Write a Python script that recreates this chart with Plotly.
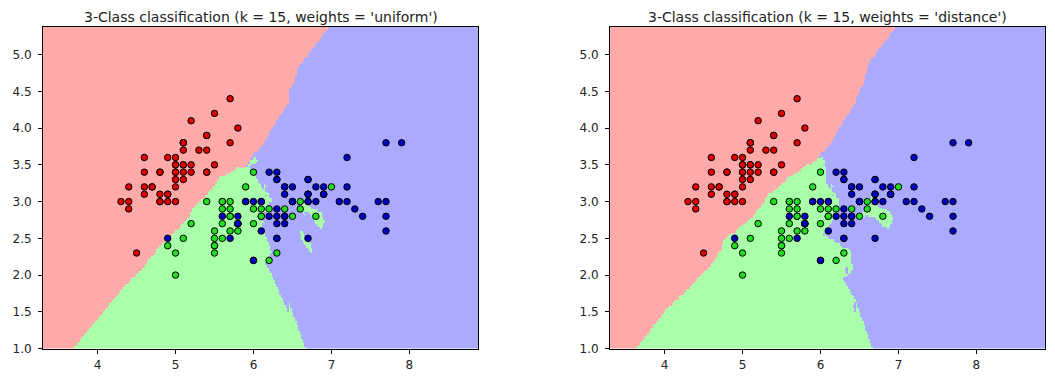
import numpy as np
import plotly.graph_objects as go
from plotly.subplots import make_subplots

# Iris: sepal length / sepal width
setosa_x = [5.1,4.9,4.7,4.6,5.0,5.4,4.6,5.0,4.4,4.9,5.4,4.8,4.8,4.3,5.8,5.7,5.4,5.1,5.7,5.1,
            5.4,5.1,4.6,5.1,4.8,5.0,5.0,5.2,5.2,4.7,4.8,5.4,5.2,5.5,4.9,5.0,5.5,4.9,4.4,5.1,
            5.0,4.5,4.4,5.0,5.1,4.8,5.1,4.6,5.3,5.0]
setosa_y = [3.5,3.0,3.2,3.1,3.6,3.9,3.4,3.4,2.9,3.1,3.7,3.4,3.0,3.0,4.0,4.4,3.9,3.5,3.8,3.8,
            3.4,3.7,3.6,3.3,3.4,3.0,3.4,3.5,3.4,3.2,3.1,3.4,4.1,4.2,3.1,3.2,3.5,3.6,3.0,3.4,
            3.5,2.3,3.2,3.5,3.8,3.0,3.8,3.2,3.7,3.3]
versicolor_x = [7.0,6.4,6.9,5.5,6.5,5.7,6.3,4.9,6.6,5.2,5.0,5.9,6.0,6.1,5.6,6.7,5.6,5.8,6.2,5.6,
                5.9,6.1,6.3,6.1,6.4,6.6,6.8,6.7,6.0,5.7,5.5,5.5,5.8,6.0,5.4,6.0,6.7,6.3,5.6,5.5,
                5.5,6.1,5.8,5.0,5.6,5.7,5.7,6.2,5.1,5.7]
versicolor_y = [3.2,3.2,3.1,2.3,2.8,2.8,3.3,2.4,2.9,2.7,2.0,3.0,2.2,2.9,2.9,3.1,3.0,2.7,2.2,2.5,
                3.2,2.8,2.5,2.8,2.9,3.0,2.8,3.0,2.9,2.6,2.4,2.4,2.7,2.7,3.0,3.4,3.1,2.3,3.0,2.5,
                2.6,3.0,2.6,2.3,2.7,3.0,2.9,2.9,2.5,2.8]
virginica_x = [6.3,5.8,7.1,6.3,6.5,7.6,4.9,7.3,6.7,7.2,6.5,6.4,6.8,5.7,5.8,6.4,6.5,7.7,7.7,6.0,
               6.9,5.6,7.7,6.3,6.7,7.2,6.2,6.1,6.4,7.2,7.4,7.9,6.4,6.3,6.1,7.7,6.3,6.4,6.0,6.9,
               6.7,6.9,5.8,6.8,6.7,6.7,6.3,6.5,6.2,5.9]
virginica_y = [3.3,2.7,3.0,2.9,3.0,3.0,2.5,2.9,2.5,3.6,3.2,2.7,3.0,2.5,2.8,3.2,3.0,3.8,2.6,2.2,
               3.2,2.8,2.8,2.7,3.3,3.2,2.8,3.0,2.8,3.0,2.8,3.8,2.8,2.8,2.6,3.0,3.4,3.1,3.0,3.1,
               3.1,3.1,2.7,3.2,3.3,3.0,2.5,3.0,3.4,3.0]

n_neighbors = 15
weight_modes = ["uniform", "distance"]
light_colors = ["#FFAAAA", "#AAFFAA", "#AAAAFF"]
bold_colors = ["#E00000", "#22DD22", "#0000C0"]
x_ticks = [4, 5, 6, 7, 8]
y_ticks = [1.0, 1.5, 2.0, 2.5, 3.0, 3.5, 4.0, 4.5, 5.0]

X = np.array(list(zip(setosa_x + versicolor_x + virginica_x, setosa_y + versicolor_y + virginica_y)))
Y = np.array([0] * 50 + [1] * 50 + [2] * 50)

h = 0.02
x_min, x_max = X[:, 0].min() - 1, X[:, 0].max() + 1
y_min, y_max = X[:, 1].min() - 1, X[:, 1].max() + 1
gx = np.arange(x_min, x_max, h)
gy = np.arange(y_min, y_max, h)
xx, yy = np.meshgrid(gx, gy)
P = np.c_[xx.ravel(), yy.ravel()]


def knn_predict(P, weights):
    d = np.sqrt(((P[:, None, :] - X[None, :, :]) ** 2).sum(-1))
    idx = np.argsort(d, axis=1, kind="stable")[:, :n_neighbors]
    nd = np.take_along_axis(d, idx, axis=1)
    lab = Y[idx]
    if weights == "uniform":
        w = np.ones_like(nd)
    else:
        with np.errstate(divide="ignore"):
            w = 1.0 / nd
        inf = np.isinf(w)
        rows = inf.any(axis=1)
        w[rows] = inf[rows].astype(float)
    scores = np.zeros((P.shape[0], 3))
    for c in range(3):
        scores[:, c] = (w * (lab == c)).sum(axis=1)
    return scores.argmax(axis=1)


fig = make_subplots(rows=1, cols=2, horizontal_spacing=0.1)
colorscale = [[0, light_colors[0]], [0.5, light_colors[1]], [1, light_colors[2]]]

for i, wmode in enumerate(weight_modes):
    Z = knn_predict(P, wmode).reshape(xx.shape)
    fig.add_trace(go.Heatmap(x=gx, y=gy, z=Z, zmin=0, zmax=2, colorscale=colorscale,
                             showscale=False, zsmooth=False, hoverinfo="skip"), row=1, col=i + 1)
    fig.add_trace(go.Scatter(x=X[:, 0], y=X[:, 1], mode="markers",
                             marker=dict(size=6.5, color=[bold_colors[c] for c in Y],
                                         line=dict(color="black", width=1)),
                             showlegend=False), row=1, col=i + 1)

W, H = 1055, 378
OFF = 8  # page body margin
fonts = dict(family="DejaVu Sans", size=12, color="#222222")
axis_common = dict(showline=True, linecolor="black", linewidth=1, mirror=True,
                   ticks="outside", ticklen=4, tickcolor="black", showgrid=False,
                   zeroline=False, tickfont=fonts)
domains = [[(43 - OFF) / W, (478 - OFF) / W], [(610 - OFF) / W, (1045 - OFF) / W]]
ydom = [1 - 347 / H, 1 - 19 / H]
for i in range(2):
    xa = "xaxis" if i == 0 else "xaxis2"
    ya = "yaxis" if i == 0 else "yaxis2"
    fig.layout[xa].update(domain=domains[i], range=[gx.min(), gx.max()], tickvals=x_ticks,
                          ticktext=[str(t) for t in x_ticks], ticklabelstandoff=1,
                          **axis_common)
    fig.layout[ya].update(domain=ydom, range=[gy.min(), gy.max()], tickvals=y_ticks,
                          ticktext=[f"{t:.1f}" for t in y_ticks], ticklabelstandoff=4,
                          **axis_common)

titles = [f"3-Class classification (k = {n_neighbors}, weights = '{w}')" for w in weight_modes]
annotations = []
for i in range(2):
    annotations.append(dict(text=titles[i], x=(domains[i][0] + domains[i][1]) / 2,
                            y=1.0, borderpad=0,
                            xref="paper", yref="paper", showarrow=False, xanchor="center",
                            yanchor="top",
                            font=dict(family="DejaVu Sans", size=14, color="#222222")))

fig.update_layout(width=W, height=H, margin=dict(l=0, r=0, t=0, b=0),
                  plot_bgcolor="white", paper_bgcolor="white", annotations=annotations,
                  showlegend=False)

fig.write_html("out.html")
